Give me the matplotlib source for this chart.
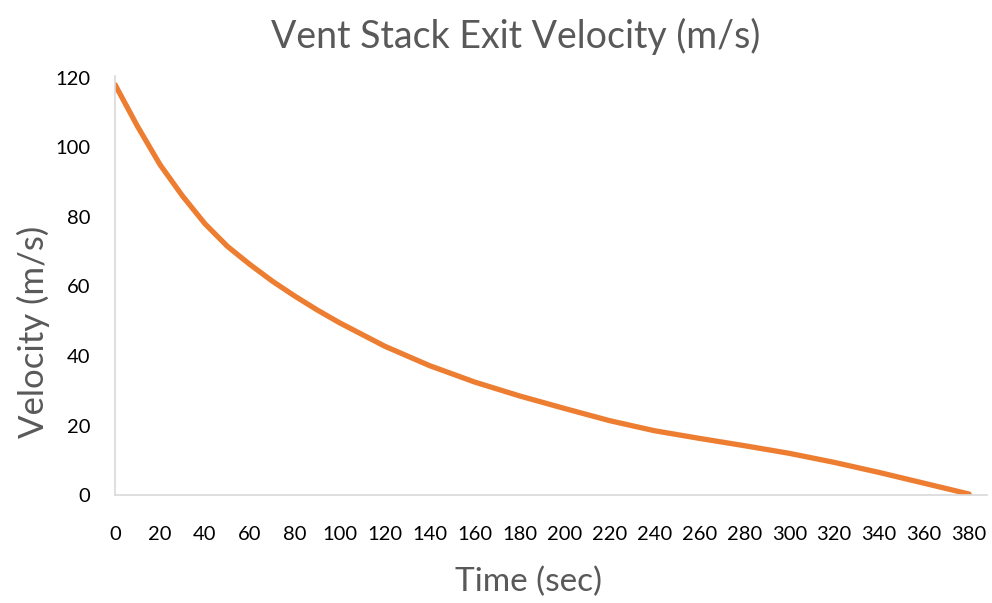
import matplotlib.pyplot as plt

# Exit velocity of the vent stack during blowdown
time_s = [0, 10, 20, 30, 40, 50, 60, 70, 80, 90, 100, 120, 140, 160, 180, 200,
          220, 240, 260, 280, 300, 320, 340, 360, 380]
velocity = [118, 106, 95, 86, 78, 71.5, 66.3, 61.5, 57.2, 53.2, 49.5, 42.8, 37.2, 32.5,
            28.5, 24.9, 21.4, 18.5, 16.3, 14.2, 12.0, 9.4, 6.5, 3.4, 0.3]
xticks = list(range(0, 381, 20))
yticks = list(range(0, 121, 20))

plt.rcParams['font.family'] = ['Lato', 'DejaVu Sans']

fig = plt.figure(figsize=(9.92, 6.03), dpi=100)
ax = fig.add_axes([0.116, 0.179, 0.879, 0.695])

ax.plot(time_s, velocity, color='#ED7D31', linewidth=3.8,
        solid_capstyle='round', solid_joinstyle='round')

ax.set_xlim(0, 388)
ax.set_ylim(0, 120.5)
ax.set_xticks(xticks)
ax.set_yticks(yticks)
ax.tick_params(length=0, labelsize=14.5, colors='black')
ax.tick_params(axis='x', pad=22)
ax.tick_params(axis='y', pad=18)

for side in ('top', 'right'):
    ax.spines[side].set_visible(False)
for side in ('left', 'bottom'):
    ax.spines[side].set_color('#D9D9D9')
    ax.spines[side].set_linewidth(1.2)

ax.set_title('Vent Stack Exit Velocity (m/s)', fontsize=27, color='#595959',
             x=0.46, pad=20)
ax.set_xlabel('Time (sec)', fontsize=24, color='#595959')
ax.set_ylabel('Velocity (m/s)', fontsize=25, color='#595959')
ax.xaxis.set_label_coords(0.474, -0.17)
ax.yaxis.set_label_coords(-0.075, 0.39)

fig.savefig('out.png', dpi=100)
